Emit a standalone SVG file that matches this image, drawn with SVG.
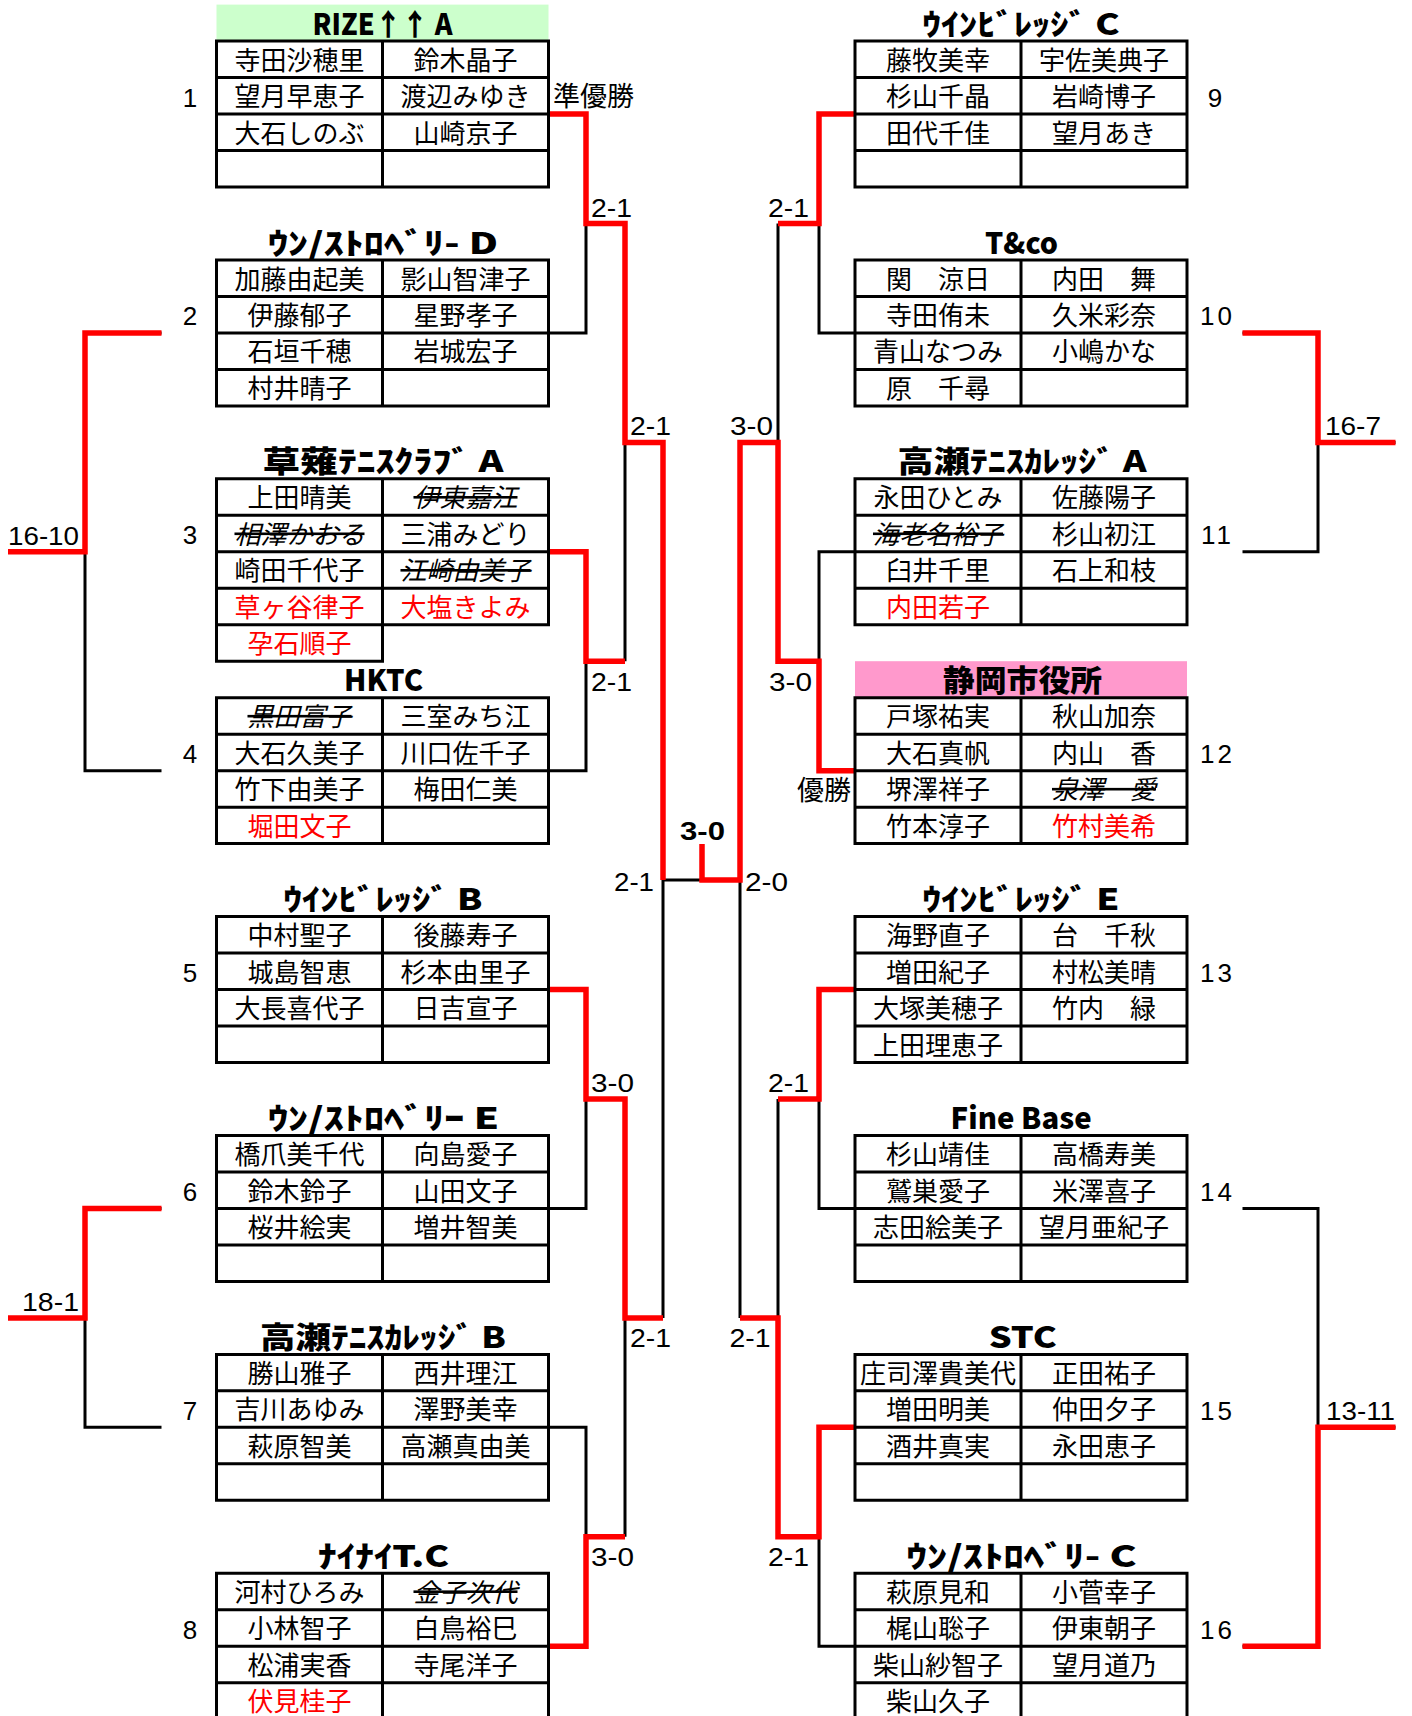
<svg xmlns="http://www.w3.org/2000/svg" width="1412" height="1716" viewBox="0 0 1412 1716">
<style>
.t{fill:none;stroke:#000;stroke-width:3}
.bk{fill:none;stroke:#000;stroke-width:3}
.rd{fill:none;stroke:#ff0000;stroke-width:5.5;stroke-linejoin:miter}
text{font-family:"Noto Sans CJK JP","Noto Sans CJK SC",sans-serif;fill:#000}
.n{font-size:26px;text-anchor:middle}
.r{fill:#ff0000}
.s{font-style:italic;text-decoration:line-through}
.h{font-size:30px;font-weight:900}
.num{font-family:"Liberation Sans",Arial,sans-serif;font-size:26px;text-anchor:middle;letter-spacing:3px}
.sc{font-family:"Liberation Sans",Arial,sans-serif;font-size:26px}
.w{font-size:27px}
</style>

<g id="connectors">
<path class="bk" d="M548.5 114H586V332.9H548.5M586 223.5H625 M548.5 551.8H586V770.7H548.5M586 661.2H625 M548.5 989.6H586V1208.4H548.5M586 1099H625 M548.5 1427.3H586V1646.2H548.5M586 1536.8H625 M625 223.5V661.2M625 442.4H663 M625 1099V1536.8M625 1317.9H663 M663 442.4V1317.9M663 880.1H740"/>
<path class="bk" d="M855 114H819V332.9H855M819 223.5H778 M855 551.8H819V770.7H855M819 661.2H778 M855 989.6H819V1208.4H855M819 1099H778 M855 1427.3H819V1646.2H855M819 1536.8H778 M778 223.5V661.2M778 442.4H740 M778 1099V1536.8M778 1317.9H740 M740 442.4V1317.9"/>
<path class="bk" d="M161.5 332.9H85V770.7H161.5M85 551.8H8 M161.5 1208.4H85V1427.3H161.5M85 1317.9H8 M1242.5 332.9H1318V551.8H1242.5M1318 442.4H1395.5 M1242.5 1208.4H1318V1646.2H1242.5M1318 1427.3H1395.5"/>
<path class="rd" d="M548.5 114H586V223.5H625V442.4H663V880.1"/>
<path class="rd" d="M548.5 551.8H586V661.2H625"/>
<path class="rd" d="M548.5 989.6H586V1099H625V1317.9H663"/>
<path class="rd" d="M548.5 1646.2H586V1536.8H625"/>
<path class="rd" d="M855 114H819V223.5H778"/>
<path class="rd" d="M855 770.7H819V661.2H778V442.4H740V880.1H702V844"/>
<path class="rd" d="M855 989.6H819V1099H778"/>
<path class="rd" d="M855 1427.3H819V1536.8H778V1317.9H740"/>
<path class="rd" d="M161.5 332.9H85V551.8H8"/>
<path class="rd" d="M161.5 1208.4H85V1317.9H8"/>
<path class="rd" d="M1242.5 332.9H1318V442.4H1395.5"/>
<path class="rd" d="M1242.5 1646.2H1318V1427.3H1395.5"/>
</g>

<g id="scores">
<text class="sc" x="591" y="216.5" textLength="41" lengthAdjust="spacingAndGlyphs">2-1</text>
<text class="sc" x="630" y="435.4" textLength="41" lengthAdjust="spacingAndGlyphs">2-1</text>
<text class="sc" x="591" y="690.7" textLength="41" lengthAdjust="spacingAndGlyphs">2-1</text>
<text class="sc" x="614" y="891" textLength="40" lengthAdjust="spacingAndGlyphs">2-1</text>
<text class="sc" x="591" y="1092" textLength="43" lengthAdjust="spacingAndGlyphs">3-0</text>
<text class="sc" x="630" y="1347.4" textLength="41" lengthAdjust="spacingAndGlyphs">2-1</text>
<text class="sc" x="591" y="1566.3" textLength="43" lengthAdjust="spacingAndGlyphs">3-0</text>
<text class="sc" x="8" y="544.8" textLength="71" lengthAdjust="spacingAndGlyphs">16-10</text>
<text class="sc" x="22" y="1310.9" textLength="57" lengthAdjust="spacingAndGlyphs">18-1</text>
<text class="sc" x="768" y="216.5" textLength="41" lengthAdjust="spacingAndGlyphs">2-1</text>
<text class="sc" x="730" y="435.4" textLength="43" lengthAdjust="spacingAndGlyphs">3-0</text>
<text class="sc" x="769" y="690.7" textLength="43" lengthAdjust="spacingAndGlyphs">3-0</text>
<text class="sc" x="768" y="1092" textLength="41" lengthAdjust="spacingAndGlyphs">2-1</text>
<text class="sc" x="729.5" y="1347.4" textLength="41" lengthAdjust="spacingAndGlyphs">2-1</text>
<text class="sc" x="768" y="1566.3" textLength="41" lengthAdjust="spacingAndGlyphs">2-1</text>
<text class="sc" x="745" y="891" textLength="43" lengthAdjust="spacingAndGlyphs">2-0</text>
<text class="sc" x="1325" y="435.4" textLength="56" lengthAdjust="spacingAndGlyphs">16-7</text>
<text class="sc" x="1326" y="1420.3" textLength="69" lengthAdjust="spacingAndGlyphs">13-11</text>
<text class="sc" x="680" y="840" font-weight="bold" textLength="45" lengthAdjust="spacingAndGlyphs">3-0</text>
<text class="w" x="553" y="106.3">準優勝</text>
<text class="w" x="851" y="799.7" text-anchor="end">優勝</text>
</g>

<g id="team1">
<rect x="216.5" y="4.6" width="332" height="36.5" fill="#ccffcc"/>
<text class="h" x="312.5" y="34.6" textLength="140" lengthAdjust="spacingAndGlyphs">RIZE↑↑ A</text>
<path class="t" d="M216.5 41.1H548.5V187H216.5ZM216.5 77.6H548.5M216.5 114H548.5M216.5 150.5H548.5M382.5 41.1V187"/>
<text class="n" x="299.5" y="69.6">寺田沙穂里</text><text class="n" x="465.5" y="69.6">鈴木晶子</text>
<text class="n" x="299.5" y="106.1">望月早恵子</text><text class="n" x="465.5" y="106.1">渡辺みゆき</text>
<text class="n" x="299.5" y="142.5">大石しのぶ</text><text class="n" x="465.5" y="142.5">山崎京子</text>
<text class="num" x="191.5" y="106.6">1</text>
</g>

<g id="team2">
<text class="h" x="268" y="253.5" textLength="230" lengthAdjust="spacingAndGlyphs">ｳﾝ/ｽﾄﾛﾍﾞﾘ- D</text>
<path class="t" d="M216.5 260H548.5V405.9H216.5ZM216.5 296.4H548.5M216.5 332.9H548.5M216.5 369.4H548.5M382.5 260V405.9"/>
<text class="n" x="299.5" y="288.5">加藤由起美</text><text class="n" x="465.5" y="288.5">影山智津子</text>
<text class="n" x="299.5" y="324.9">伊藤郁子</text><text class="n" x="465.5" y="324.9">星野孝子</text>
<text class="n" x="299.5" y="361.4">石垣千穂</text><text class="n" x="465.5" y="361.4">岩城宏子</text>
<text class="n" x="299.5" y="397.9">村井晴子</text>
<text class="num" x="191.5" y="325.4">2</text>
</g>

<g id="team3">
<text class="h" x="262.5" y="472.4" textLength="241" lengthAdjust="spacingAndGlyphs">草薙ﾃﾆｽｸﾗﾌﾞ A</text>
<path class="t" d="M216.5 478.8H548.5V624.8H382.5V661.2H216.5ZM216.5 515.3H548.5M216.5 551.8H548.5M216.5 588.3H548.5M216.5 624.8H382.5M382.5 478.8V661.2"/>
<text class="n" x="299.5" y="507.3">上田晴美</text><text class="n s" x="465.5" y="507.3">伊東嘉江</text>
<text class="n s" x="299.5" y="543.8">相澤かおる</text><text class="n" x="465.5" y="543.8">三浦みどり</text>
<text class="n" x="299.5" y="580.3">崎田千代子</text><text class="n s" x="465.5" y="580.3">江崎由美子</text>
<text class="n r" x="299.5" y="616.8">草ヶ谷律子</text><text class="n r" x="465.5" y="616.8">大塩きよみ</text>
<text class="n r" x="299.5" y="653.3">孕石順子</text>
<text class="num" x="191.5" y="544.3">3</text>
</g>

<g id="team4">
<text class="h" x="344" y="691.2" textLength="79" lengthAdjust="spacingAndGlyphs">HKTC</text>
<path class="t" d="M216.5 697.7H548.5V843.6H216.5ZM216.5 734.2H548.5M216.5 770.7H548.5M216.5 807.2H548.5M382.5 697.7V843.6"/>
<text class="n s" x="299.5" y="726.2">黒田富子</text><text class="n" x="465.5" y="726.2">三室みち江</text>
<text class="n" x="299.5" y="762.7">大石久美子</text><text class="n" x="465.5" y="762.7">川口佐千子</text>
<text class="n" x="299.5" y="799.2">竹下由美子</text><text class="n" x="465.5" y="799.2">梅田仁美</text>
<text class="n r" x="299.5" y="835.7">堀田文子</text>
<text class="num" x="191.5" y="763.2">4</text>
</g>

<g id="team5">
<text class="h" x="283.5" y="910.1" textLength="199" lengthAdjust="spacingAndGlyphs">ｳｲﾝﾋﾞﾚｯｼﾞ B</text>
<path class="t" d="M216.5 916.6H548.5V1062.5H216.5ZM216.5 953.1H548.5M216.5 989.6H548.5M216.5 1026H548.5M382.5 916.6V1062.5"/>
<text class="n" x="299.5" y="945.1">中村聖子</text><text class="n" x="465.5" y="945.1">後藤寿子</text>
<text class="n" x="299.5" y="981.6">城島智恵</text><text class="n" x="465.5" y="981.6">杉本由里子</text>
<text class="n" x="299.5" y="1018.1">大長喜代子</text><text class="n" x="465.5" y="1018.1">日吉宣子</text>
<text class="num" x="191.5" y="982.1">5</text>
</g>

<g id="team6">
<text class="h" x="268" y="1129" textLength="231" lengthAdjust="spacingAndGlyphs">ｳﾝ/ｽﾄﾛﾍﾞﾘｰ E</text>
<path class="t" d="M216.5 1135.5H548.5V1281.4H216.5ZM216.5 1172H548.5M216.5 1208.4H548.5M216.5 1244.9H548.5M382.5 1135.5V1281.4"/>
<text class="n" x="299.5" y="1164">橋爪美千代</text><text class="n" x="465.5" y="1164">向島愛子</text>
<text class="n" x="299.5" y="1200.5">鈴木鈴子</text><text class="n" x="465.5" y="1200.5">山田文子</text>
<text class="n" x="299.5" y="1236.9">桜井絵実</text><text class="n" x="465.5" y="1236.9">増井智美</text>
<text class="num" x="191.5" y="1201">6</text>
</g>

<g id="team7">
<text class="h" x="260" y="1347.9" textLength="246" lengthAdjust="spacingAndGlyphs">高瀬ﾃﾆｽｶﾚｯｼﾞ B</text>
<path class="t" d="M216.5 1354.4H548.5V1500.3H216.5ZM216.5 1390.8H548.5M216.5 1427.3H548.5M216.5 1463.8H548.5M382.5 1354.4V1500.3"/>
<text class="n" x="299.5" y="1382.9">勝山雅子</text><text class="n" x="465.5" y="1382.9">西井理江</text>
<text class="n" x="299.5" y="1419.3">吉川あゆみ</text><text class="n" x="465.5" y="1419.3">澤野美幸</text>
<text class="n" x="299.5" y="1455.8">萩原智美</text><text class="n" x="465.5" y="1455.8">高瀬真由美</text>
<text class="num" x="191.5" y="1419.8">7</text>
</g>

<g id="team8">
<text class="h" x="318" y="1566.8" textLength="131" lengthAdjust="spacingAndGlyphs">ﾅｲﾅｲT.C</text>
<path class="t" d="M216.5 1573.2H548.5V1719.2H216.5ZM216.5 1609.7H548.5M216.5 1646.2H548.5M216.5 1682.7H548.5M382.5 1573.2V1719.2"/>
<text class="n" x="299.5" y="1601.7">河村ひろみ</text><text class="n s" x="465.5" y="1601.7">金子次代</text>
<text class="n" x="299.5" y="1638.2">小林智子</text><text class="n" x="465.5" y="1638.2">白鳥裕巳</text>
<text class="n" x="299.5" y="1674.7">松浦実香</text><text class="n" x="465.5" y="1674.7">寺尾洋子</text>
<text class="n r" x="299.5" y="1711.2">伏見桂子</text>
<text class="num" x="191.5" y="1638.7">8</text>
</g>

<g id="team9">
<text class="h" x="922.5" y="34.6" textLength="197" lengthAdjust="spacingAndGlyphs">ｳｲﾝﾋﾞﾚｯｼﾞ C</text>
<path class="t" d="M855 41.1H1187V187H855ZM855 77.6H1187M855 114H1187M855 150.5H1187M1021 41.1V187"/>
<text class="n" x="938" y="69.6">藤牧美幸</text><text class="n" x="1104" y="69.6">宇佐美典子</text>
<text class="n" x="938" y="106.1">杉山千晶</text><text class="n" x="1104" y="106.1">岩崎博子</text>
<text class="n" x="938" y="142.5">田代千佳</text><text class="n" x="1104" y="142.5">望月あき</text>
<text class="num" x="1216.5" y="106.6">9</text>
</g>

<g id="team10">
<text class="h" x="985" y="253.5" textLength="73" lengthAdjust="spacingAndGlyphs">T&amp;co</text>
<path class="t" d="M855 260H1187V405.9H855ZM855 296.4H1187M855 332.9H1187M855 369.4H1187M1021 260V405.9"/>
<text class="n" x="938" y="288.5">関　涼日</text><text class="n" x="1104" y="288.5">内田　舞</text>
<text class="n" x="938" y="324.9">寺田侑未</text><text class="n" x="1104" y="324.9">久米彩奈</text>
<text class="n" x="938" y="361.4">青山なつみ</text><text class="n" x="1104" y="361.4">小嶋かな</text>
<text class="n" x="938" y="397.9">原　千尋</text>
<text class="num" x="1217.5" y="325.4">10</text>
</g>

<g id="team11">
<text class="h" x="897.5" y="472.4" textLength="249" lengthAdjust="spacingAndGlyphs">高瀬ﾃﾆｽｶﾚｯｼﾞ A</text>
<path class="t" d="M855 478.8H1187V624.8H855ZM855 515.3H1187M855 551.8H1187M855 588.3H1187M1021 478.8V624.8"/>
<text class="n" x="938" y="507.3">永田ひとみ</text><text class="n" x="1104" y="507.3">佐藤陽子</text>
<text class="n s" x="938" y="543.8">海老名裕子</text><text class="n" x="1104" y="543.8">杉山初江</text>
<text class="n" x="938" y="580.3">臼井千里</text><text class="n" x="1104" y="580.3">石上和枝</text>
<text class="n r" x="938" y="616.8">内田若子</text>
<text class="num" x="1217.5" y="544.3">11</text>
</g>

<g id="team12">
<rect x="855" y="661.2" width="332" height="36.5" fill="#ff99cc"/>
<text class="h" x="943" y="691.2" textLength="159" lengthAdjust="spacingAndGlyphs">静岡市役所</text>
<path class="t" d="M855 697.7H1187V843.6H855ZM855 734.2H1187M855 770.7H1187M855 807.2H1187M1021 697.7V843.6"/>
<text class="n" x="938" y="726.2">戸塚祐実</text><text class="n" x="1104" y="726.2">秋山加奈</text>
<text class="n" x="938" y="762.7">大石真帆</text><text class="n" x="1104" y="762.7">内山　香</text>
<text class="n" x="938" y="799.2">堺澤祥子</text><text class="n s" x="1104" y="799.2">泉澤　愛</text>
<text class="n" x="938" y="835.7">竹本淳子</text><text class="n r" x="1104" y="835.7">竹村美希</text>
<text class="num" x="1217.5" y="763.2">12</text>
</g>

<g id="team13">
<text class="h" x="922.5" y="910.1" textLength="197" lengthAdjust="spacingAndGlyphs">ｳｲﾝﾋﾞﾚｯｼﾞ E</text>
<path class="t" d="M855 916.6H1187V1062.5H855ZM855 953.1H1187M855 989.6H1187M855 1026H1187M1021 916.6V1062.5"/>
<text class="n" x="938" y="945.1">海野直子</text><text class="n" x="1104" y="945.1">台　千秋</text>
<text class="n" x="938" y="981.6">増田紀子</text><text class="n" x="1104" y="981.6">村松美晴</text>
<text class="n" x="938" y="1018.1">大塚美穂子</text><text class="n" x="1104" y="1018.1">竹内　緑</text>
<text class="n" x="938" y="1054.5">上田理恵子</text>
<text class="num" x="1217.5" y="982.1">13</text>
</g>

<g id="team14">
<text class="h" x="950.6" y="1129" textLength="141" lengthAdjust="spacingAndGlyphs">Fine Base</text>
<path class="t" d="M855 1135.5H1187V1281.4H855ZM855 1172H1187M855 1208.4H1187M855 1244.9H1187M1021 1135.5V1281.4"/>
<text class="n" x="938" y="1164">杉山靖佳</text><text class="n" x="1104" y="1164">高橋寿美</text>
<text class="n" x="938" y="1200.5">鷲巣愛子</text><text class="n" x="1104" y="1200.5">米澤喜子</text>
<text class="n" x="938" y="1236.9">志田絵美子</text><text class="n" x="1104" y="1236.9">望月亜紀子</text>
<text class="num" x="1217.5" y="1201">14</text>
</g>

<g id="team15">
<text class="h" x="988.7" y="1347.9" textLength="68" lengthAdjust="spacingAndGlyphs">STC</text>
<path class="t" d="M855 1354.4H1187V1500.3H855ZM855 1390.8H1187M855 1427.3H1187M855 1463.8H1187M1021 1354.4V1500.3"/>
<text class="n" x="938" y="1382.9">庄司澤貴美代</text><text class="n" x="1104" y="1382.9">正田祐子</text>
<text class="n" x="938" y="1419.3">増田明美</text><text class="n" x="1104" y="1419.3">仲田夕子</text>
<text class="n" x="938" y="1455.8">酒井真実</text><text class="n" x="1104" y="1455.8">永田恵子</text>
<text class="num" x="1217.5" y="1419.8">15</text>
</g>

<g id="team16">
<text class="h" x="906.6" y="1566.8" textLength="230" lengthAdjust="spacingAndGlyphs">ｳﾝ/ｽﾄﾛﾍﾞﾘ- C</text>
<path class="t" d="M855 1573.2H1187V1719.2H855ZM855 1609.7H1187M855 1646.2H1187M855 1682.7H1187M1021 1573.2V1719.2"/>
<text class="n" x="938" y="1601.7">萩原見和</text><text class="n" x="1104" y="1601.7">小菅幸子</text>
<text class="n" x="938" y="1638.2">梶山聡子</text><text class="n" x="1104" y="1638.2">伊東朝子</text>
<text class="n" x="938" y="1674.7">柴山紗智子</text><text class="n" x="1104" y="1674.7">望月道乃</text>
<text class="n" x="938" y="1711.2">柴山久子</text>
<text class="num" x="1217.5" y="1638.7">16</text>
</g>
</svg>
